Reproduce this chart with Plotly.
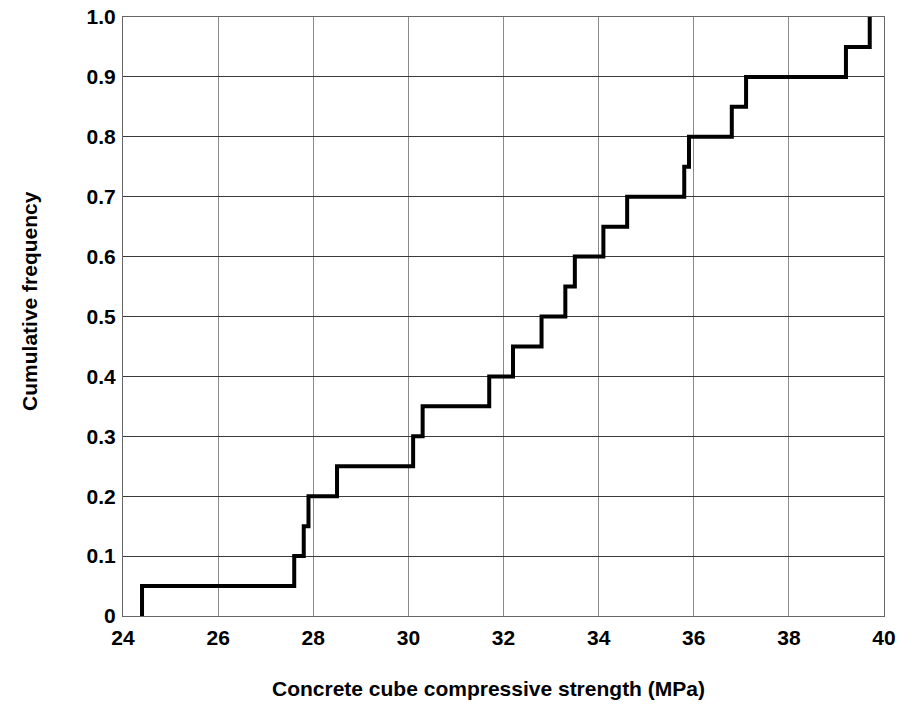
import plotly.graph_objects as go

# Sorted concrete cube compressive strengths (MPa), 20 specimens
strengths = [24.4, 27.6, 27.8, 27.9, 28.5, 30.1, 30.3, 31.7, 32.2, 32.8,
             33.3, 33.5, 34.1, 34.6, 35.8, 35.9, 36.8, 37.1, 39.2, 39.7]
cum_freq = [0.05, 0.10, 0.15, 0.20, 0.25, 0.30, 0.35, 0.40, 0.45, 0.50,
            0.55, 0.60, 0.65, 0.70, 0.75, 0.80, 0.85, 0.90, 0.95, 1.00]

x_ticks = [24, 26, 28, 30, 32, 34, 36, 38, 40]
y_ticks = [0, 0.1, 0.2, 0.3, 0.4, 0.5, 0.6, 0.7, 0.8, 0.9, 1.0]
y_tick_labels = ["0", "0.1", "0.2", "0.3", "0.4", "0.5", "0.6", "0.7", "0.8", "0.9", "1.0"]

x_title = "Concrete cube compressive strength (MPa)"
y_title = "Cumulative frequency"

xs = [strengths[0]] + strengths
ys = [0] + cum_freq

FONT = "Liberation Sans, Arial, sans-serif"

fig = go.Figure()
fig.add_trace(go.Scatter(
    x=xs, y=ys, mode="lines", line=dict(color="black", width=4, shape="hv"),
    showlegend=False, hoverinfo="skip",
))

fig.update_layout(
    width=920, height=712,
    margin=dict(l=123, r=36, t=17, b=96),
    paper_bgcolor="white", plot_bgcolor="white",
    font=dict(family=FONT, size=21, color="black", weight="bold"),
    xaxis=dict(
        range=[24, 40], tickvals=x_ticks, ticktext=[str(v) for v in x_ticks],
        showgrid=True, gridcolor="#8a8a8a", gridwidth=1,
        showline=True, linecolor="#666", linewidth=1, mirror=True,
        zeroline=False, ticks="", ticklabelstandoff=3, automargin=False,
        ticklabeloverflow="allow",
        tickfont=dict(family=FONT, size=21, color="black", weight="bold"),
    ),
    yaxis=dict(
        range=[0, 1.0], tickvals=y_ticks, ticktext=y_tick_labels,
        showgrid=True, gridcolor="#3a3a3a", gridwidth=1,
        showline=True, linecolor="#666", linewidth=1, mirror=True,
        zeroline=False, ticks="", ticklabelstandoff=2, automargin=False,
        ticklabeloverflow="allow",
        tickfont=dict(family=FONT, size=21, color="black", weight="bold"),
    ),
    annotations=[
        dict(text=x_title, xref="paper", yref="paper", x=0.48, y=0,
             yshift=-72, xanchor="center", yanchor="middle", showarrow=False,
             font=dict(family=FONT, size=21, color="black", weight="bold")),
        dict(text=y_title, xref="paper", yref="paper", x=0, y=0.526,
             xshift=-93, xanchor="center", yanchor="middle", showarrow=False,
             textangle=-90,
             font=dict(family=FONT, size=21, color="black", weight="bold")),
    ],
)

# remove the default 8px page margin so the 920x712 figure fills the window
fig.write_html("out.html",
               config={"displayModeBar": False, "staticPlot": True},
               post_script="document.body.style.margin='0px';document.body.style.overflow='hidden';")
